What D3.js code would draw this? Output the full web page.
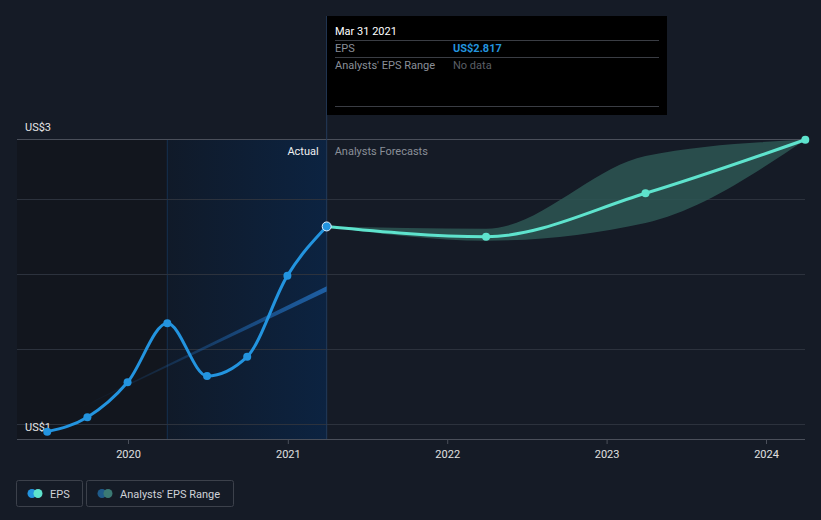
<!DOCTYPE html>
<html><head><meta charset="utf-8">
<script src="https://cdn.jsdelivr.net/npm/d3@7/dist/d3.min.js"></script>
<style>
html,body{margin:0;padding:0;background:#151b26;}
svg{display:block;font-family:Roboto, "Open Sans", sans-serif;}
</style></head>
<body>
<svg id="chart" width="821" height="520"></svg>
<script>
// ---- data ----
const actualDates = ["2019-06-30","2019-09-30","2019-12-31","2020-03-31","2020-06-30","2020-09-30","2020-12-31","2021-03-31"];
const actualEPS   = [1.449, 1.545, 1.778, 2.171, 1.820, 1.949, 2.489, 2.817];
const forecastDates = ["2021-03-31","2022-03-31","2023-03-31","2024-03-31"];
const forecastEPS   = [2.817, 2.749, 3.038, 3.395];
const rangeLow      = [2.817, 2.722, 2.840, 3.395];
const rangeHigh     = [2.817, 2.802, 3.287, 3.395];
const trendDates = ["2019-09-15","2021-03-31"];
const trendLow   = [1.609, 2.383];
const trendHigh  = [1.611, 2.418];
const yearTicks = ["2020","2021","2022","2023","2024"];
const yLabels = ["US$3","US$1"];
const legendItems = ["EPS","Analysts' EPS Range"];

(function(){
const P = d3.timeParse("%Y-%m-%d");
const svg = d3.select("#chart");
const pL = 17, pR = 805, pT = 139, pB = 439;

const x = d3.scaleTime().domain([P("2020-01-01"), P("2024-01-01")]).range([128, 766]);
const y = d3.scaleLinear().domain([1.4, 3.4]).range([pB, pT]);

const defs = svg.append("defs");
const g1 = defs.append("linearGradient").attr("id","pastYear").attr("x1","0").attr("x2","1").attr("y1","0").attr("y2","0");
g1.append("stop").attr("offset","0%").attr("stop-color","#101a29");
g1.append("stop").attr("offset","100%").attr("stop-color","#0c2341");
const g2 = defs.append("linearGradient").attr("id","trendGrad").attr("x1","0").attr("x2","1").attr("y1","0").attr("y2","0");
g2.append("stop").attr("offset","0%").attr("stop-color","#1e5fa3").attr("stop-opacity",0);
g2.append("stop").attr("offset","40%").attr("stop-color","#1e5fa3").attr("stop-opacity",0.35);
g2.append("stop").attr("offset","100%").attr("stop-color","#1e5fa3").attr("stop-opacity",1);

const xStart = x(P(actualDates[3])), xNow = x(P(actualDates[7]));
// backgrounds
svg.append("rect").attr("x",pL).attr("y",pT).attr("width",xStart-pL).attr("height",pB-pT).attr("fill","#12161e");
svg.append("rect").attr("x",xStart).attr("y",pT).attr("width",xNow-xStart).attr("height",pB-pT).attr("fill","url(#pastYear)");
svg.append("line").attr("x1",xStart).attr("x2",xStart).attr("y1",pT).attr("y2",pB).attr("stroke","#15304f").attr("stroke-width",1);

// gridlines
const gridVals = [1.5, 2.0, 2.5, 3.0, 3.4];
svg.append("g").selectAll("line").data(gridVals).join("line")
  .attr("x1",pL).attr("x2",pR).attr("y1",d=>Math.round(y(d))+0.5).attr("y2",d=>Math.round(y(d))+0.5)
  .attr("stroke",(d,i)=> i===4 ? "#4a4f5a" : "#2c323d").attr("stroke-width",1);

// now line
svg.append("line").attr("x1",xNow).attr("x2",xNow).attr("y1",16).attr("y2",pB).attr("stroke","#233a5a").attr("stroke-width",1);

// x axis
const xAxis = d3.axisBottom(x).tickValues(yearTicks.map(t=>P(t+"-01-01"))).tickFormat(d3.timeFormat("%Y")).tickSize(5).tickPadding(6);
const ax = svg.append("g").attr("transform",`translate(0,${pB})`).call(xAxis);
ax.select(".domain").attr("d",`M${pL},0.5H${pR}`).attr("stroke","#4a4f5a");
ax.selectAll(".tick line").attr("stroke","#4a4f5a");
ax.selectAll(".tick text").attr("fill","#e0e0e0").attr("font-size",11).attr("font-family","Roboto, sans-serif");

// y labels
svg.append("text").attr("x",25).attr("y",131).attr("fill","#e6e6e6").attr("font-size",11).text(yLabels[0]);
svg.append("text").attr("x",25).attr("y",431).attr("fill","#e6e6e6").attr("font-size",11).text(yLabels[1]);

// trend wedge
const tData = trendDates.map((d,i)=>({d:P(d),lo:trendLow[i],hi:trendHigh[i]}));
svg.append("path").datum(tData).attr("fill","url(#trendGrad)")
  .attr("d", d3.area().x(d=>x(d.d)).y0(d=>y(d.lo)).y1(d=>y(d.hi)));

// forecast band
const fData = forecastDates.map((d,i)=>({d:P(d),v:forecastEPS[i],lo:rangeLow[i],hi:rangeHigh[i]}));
svg.append("path").datum(fData).attr("fill","#2d5654").attr("fill-opacity",0.85)
  .attr("d", d3.area().curve(d3.curveMonotoneX).x(d=>x(d.d)).y0(d=>y(d.lo)).y1(d=>y(d.hi)));

// forecast line
svg.append("path").datum(fData).attr("fill","none").attr("stroke","#5ee3cd").attr("stroke-width",3)
  .attr("d", d3.line().curve(d3.curveMonotoneX).x(d=>x(d.d)).y(d=>y(d.v)));
svg.append("g").selectAll("circle").data(fData.slice(1)).join("circle")
  .attr("cx",d=>x(d.d)).attr("cy",d=>y(d.v)).attr("r",4).attr("fill","#5ee3cd");

// actual line
const aData = actualDates.map((d,i)=>({d:P(d),v:actualEPS[i]}));
svg.append("path").datum(aData).attr("fill","none").attr("stroke","#2394df").attr("stroke-width",3)
  .attr("d", d3.line().curve(d3.curveMonotoneX).x(d=>x(d.d)).y(d=>y(d.v)));
svg.append("g").selectAll("circle").data(aData).join("circle")
  .attr("cx",d=>x(d.d)).attr("cy",d=>y(d.v)).attr("r",(d,i)=> i===aData.length-1 ? 4.5 : 4)
  .attr("fill","#2394df").attr("stroke",(d,i)=> i===aData.length-1 ? "#e8f2ff" : "none").attr("stroke-width",1);

// Actual / Forecast labels
svg.append("text").attr("x",xNow-8).attr("y",155).attr("text-anchor","end").attr("fill","#f0f0f0").attr("font-size",11).text("Actual");
svg.append("text").attr("x",xNow+8).attr("y",155).attr("fill","#8a8f98").attr("font-size",11).text("Analysts Forecasts");

// tooltip
const tt = svg.append("g");
tt.append("rect").attr("x",327).attr("y",16).attr("width",340).attr("height",99).attr("fill","#000");
tt.append("text").attr("x",335).attr("y",35).attr("fill","#fff").attr("font-size",11).text("Mar 31 2021");
[40.5, 57.5, 106.5].forEach(yy=> tt.append("line").attr("x1",335).attr("x2",659).attr("y1",yy).attr("y2",yy).attr("stroke","#3a3d44"));
tt.append("text").attr("x",335).attr("y",52).attr("fill","#8a8f98").attr("font-size",11).text("EPS");
tt.append("text").attr("x",453).attr("y",52).attr("fill","#2394df").attr("font-size",11).attr("font-weight","bold").text("US$" + actualEPS[7].toFixed(3));
tt.append("text").attr("x",335).attr("y",69).attr("fill","#8a8f98").attr("font-size",11).text("Analysts' EPS Range");
tt.append("text").attr("x",453).attr("y",69).attr("fill","#5b5f66").attr("font-size",11).text("No data");

// legend
const lg = svg.append("g");
const boxes = [{x:16,w:66},{x:86,w:147}];
const circ = [["#2394df","#5ee3cd"],["#1f5b8a","#3b7a74"]];
boxes.forEach((b,i)=>{
  lg.append("rect").attr("x",b.x+0.5).attr("y",480.5).attr("width",b.w).attr("height",26).attr("rx",2)
    .attr("fill","none").attr("stroke","#3c414b");
  lg.append("circle").attr("cx",b.x+16).attr("cy",493.5).attr("r",4.5).attr("fill",circ[i][0]);
  lg.append("circle").attr("cx",b.x+22).attr("cy",493.5).attr("r",4.5).attr("fill",circ[i][1]);
  lg.append("text").attr("x",b.x+34).attr("y",497.5).attr("fill","#cfd2d8").attr("font-size",11).text(legendItems[i]);
});
})();
</script>
</body></html>
